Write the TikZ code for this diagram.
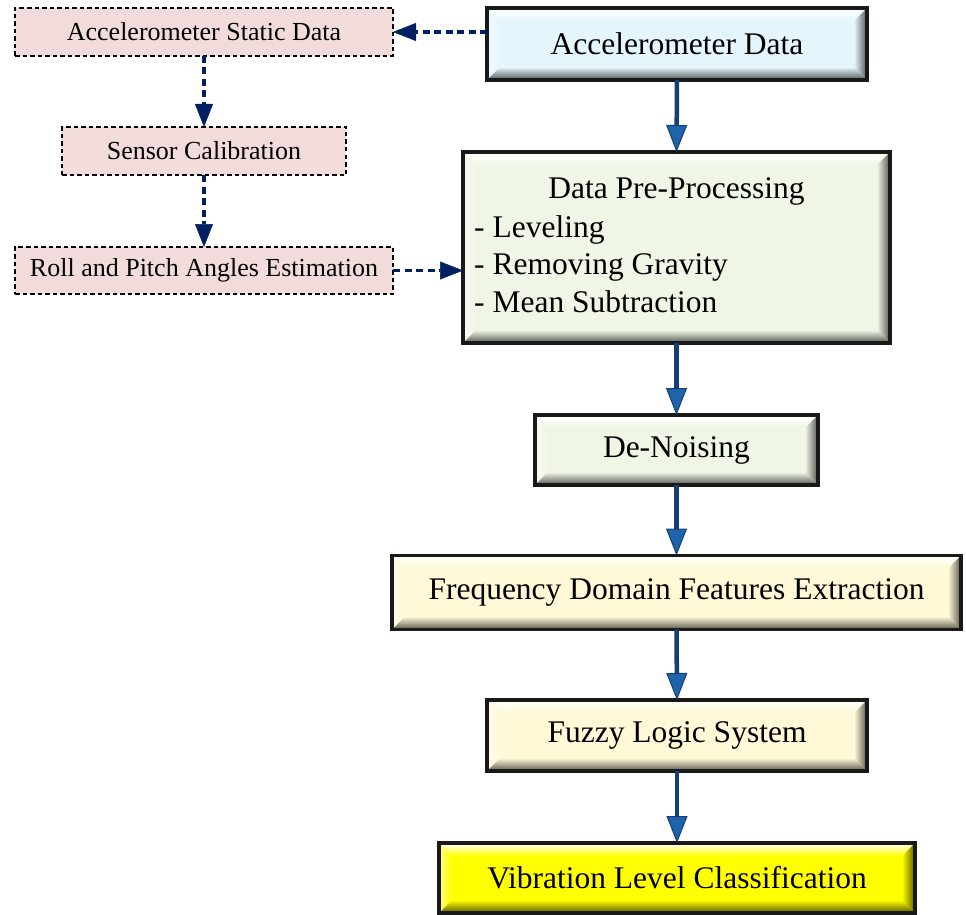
\documentclass[tikz,border=0pt]{standalone}
\usepackage{fontspec}
\setmainfont{Liberation Serif}
\usetikzlibrary{arrows.meta,calc}
\definecolor{cyanfill}{RGB}{228,246,252}
\definecolor{greenfill}{RGB}{240,246,230}
\definecolor{creamfill}{RGB}{255,249,215}
\definecolor{yellowfill}{RGB}{255,255,0}
\definecolor{pinkfill}{RGB}{242,220,219}
\definecolor{navyline}{RGB}{0,32,96}
\definecolor{arrowblue}{RGB}{30,100,170}
\definecolor{arrowdark}{RGB}{22,62,118}
\tikzset{
  bevel/.style={draw=black!90, line width=3.2pt, fill=#1, inner sep=0pt, outer sep=0pt,
    font=\fontsize{31.5}{37.5}\selectfont,
    path picture={
      \path (path picture bounding box.north west) coordinate (pnw)
            (path picture bounding box.north east) coordinate (pne)
            (path picture bounding box.south east) coordinate (pse)
            (path picture bounding box.south west) coordinate (psw);
      \shade[top color=white, bottom color=#1]
        (pnw) -- (pne) -- ([shift={(-13pt,-13pt)}]pne) -- ([shift={(13pt,-13pt)}]pnw) -- cycle;
      \shade[left color=white!50!#1, right color=#1]
        (pnw) -- ([shift={(13pt,-13pt)}]pnw) -- ([shift={(13pt,13pt)}]psw) -- (psw) -- cycle;
      \shade[left color=#1, right color=#1!35!black]
        (pne) -- (pse) -- ([shift={(-13pt,13pt)}]pse) -- ([shift={(-13pt,-13pt)}]pne) -- cycle;
      \shade[top color=#1, bottom color=#1!35!black]
        (psw) -- ([shift={(13pt,13pt)}]psw) -- ([shift={(-13pt,13pt)}]pse) -- (pse) -- cycle;
    }},
  dashbox/.style={draw=black, line width=2.3pt, dash pattern=on 4.5pt off 3pt, fill=pinkfill,
    inner sep=0pt, outer sep=0pt, font=\fontsize{26}{30}\selectfont},
  mainarrow/.style={draw=arrowdark, line width=4.5pt,
    -{Triangle[length=27pt,width=21pt,line width=1pt,fill=arrowblue]}},
  dasharrow/.style={draw=navyline, line width=3.6pt, dash pattern=on 7pt off 4.5pt,
    -{Triangle[length=23pt,width=18pt,line width=0.5pt]}},
  plaintext/.style={inner sep=0pt, font=\fontsize{31.5}{37.5}\selectfont}
}
\begin{document}
\begin{tikzpicture}[x=1pt,y=-1pt]
\useasboundingbox (0,0) rectangle (966,915);
% main column
\node[bevel=cyanfill, minimum width=380pt, minimum height=72pt] (ad) at (677,44) {Accelerometer Data};
\node[bevel=greenfill, minimum width=427pt, minimum height=191pt] (dpp) at (676.5,247.5) {};
\node[plaintext, anchor=base] (dpptitle) at (676.5,198) {Data Pre-Processing};
\node[plaintext, anchor=base west, align=left] (dpplist) at (474,312) {- Leveling\\- Removing Gravity\\- Mean Subtraction};
\node[bevel=greenfill, minimum width=283pt, minimum height=70pt] (dn) at (676.5,450) {De-Noising};
\node[bevel=creamfill, minimum width=569pt, minimum height=74pt] (fd) at (676.5,592.5) {Frequency Domain Features Extraction};
\node[bevel=creamfill, minimum width=380pt, minimum height=71pt] (fl) at (677,735.5) {Fuzzy Logic System};
\node[bevel=yellowfill, minimum width=476pt, minimum height=70pt] (vl) at (677,878) {Vibration Level Classification};
% left column
\node[dashbox, minimum width=378pt, minimum height=48pt] (asd) at (204,32) {Accelerometer Static Data};
\node[dashbox, minimum width=284pt, minimum height=48pt] (sc) at (204,151) {Sensor Calibration};
\node[dashbox, minimum width=378pt, minimum height=47pt] (rp) at (204,270.5) {Roll and Pitch Angles Estimation};
% main arrows
\draw[mainarrow] (ad.south) -- (dpp.north);
\draw[mainarrow] (dpp.south) -- (dn.north);
\draw[mainarrow] (dn.south) -- (fd.north);
\draw[mainarrow] (fd.south) -- (fl.north);
\draw[mainarrow] (fl.south) -- (vl.north);
% dashed arrows
\draw[dasharrow] (ad.west |- asd.east) -- (asd.east);
\draw[dasharrow] (asd.south) -- (sc.north);
\draw[dasharrow] (sc.south) -- (rp.north);
\draw[dasharrow] (rp.east) -- (dpp.west |- rp.east);
\end{tikzpicture}
\end{document}
